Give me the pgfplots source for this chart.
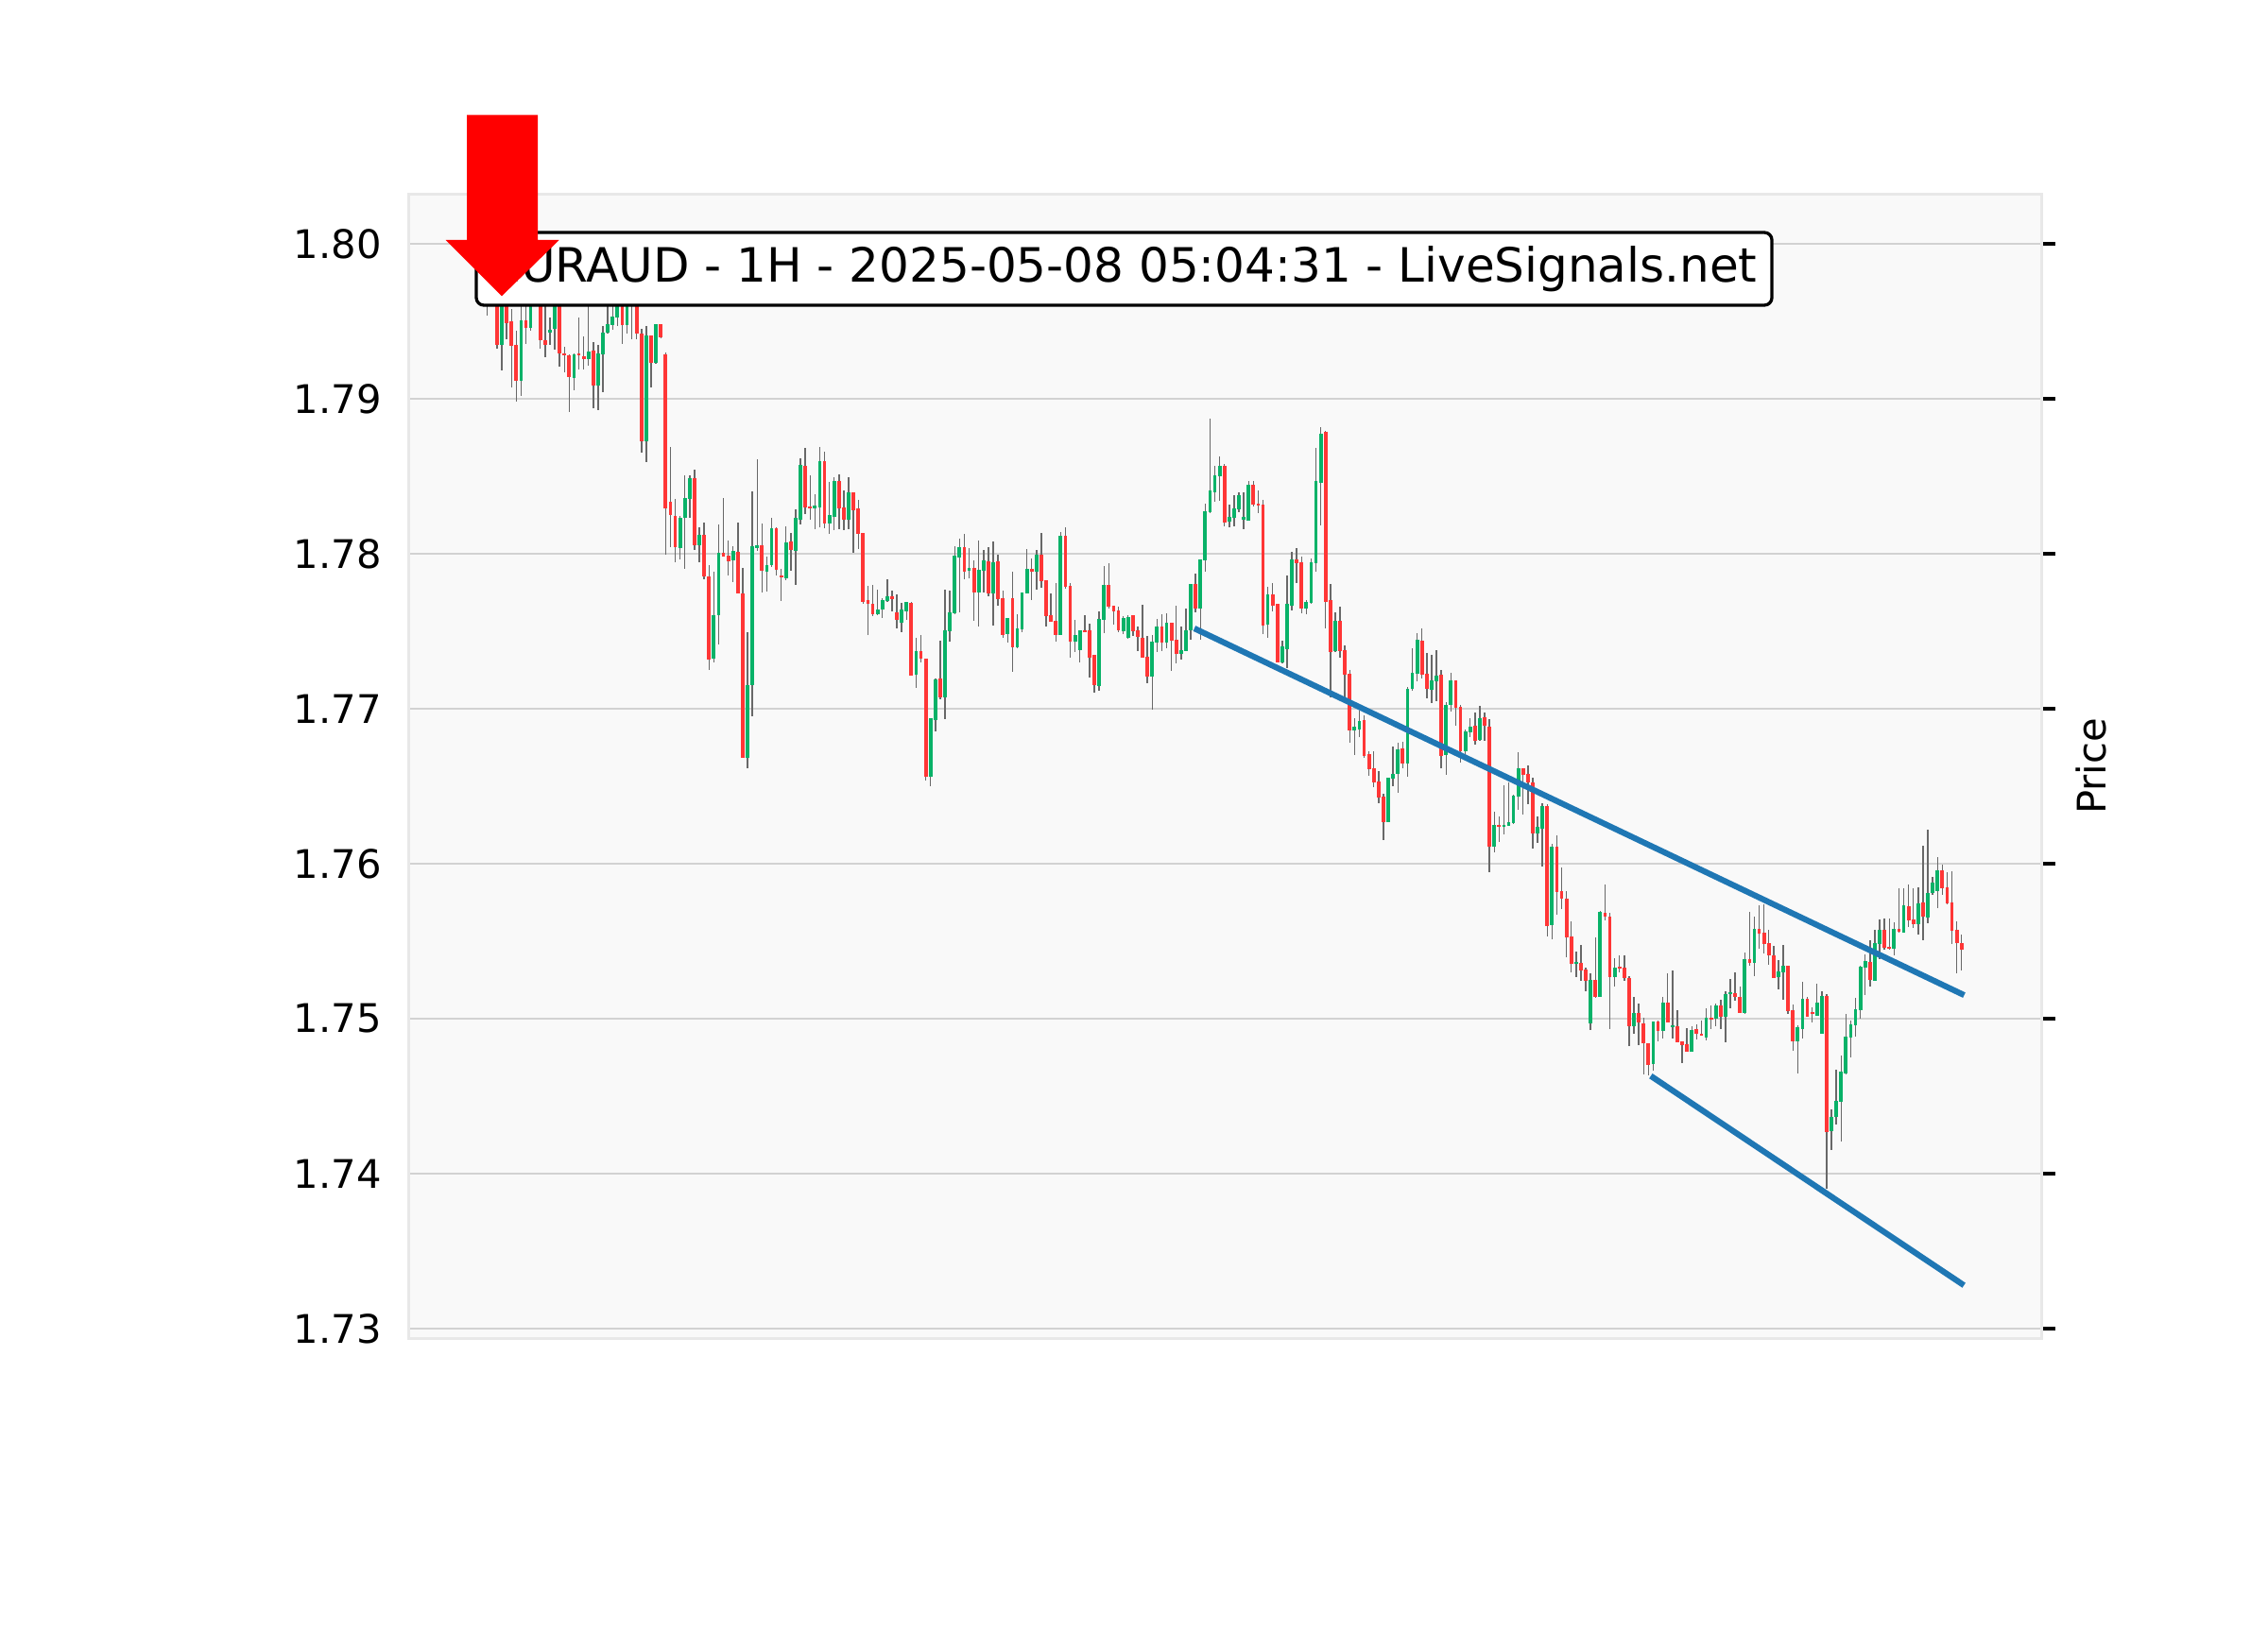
\documentclass[border=0pt]{standalone}
\usepackage{pgfplots}
\pgfplotsset{compat=1.18}
\usepackage{pgfplotstable}
\usepackage{fontspec}
\setmainfont{DejaVu Sans}
\definecolor{upc}{RGB}{8,178,104}
\definecolor{dnc}{RGB}{255,54,54}
\definecolor{wickc}{RGB}{104,104,104}
\definecolor{bgc}{RGB}{249,249,249}
\definecolor{gridc}{RGB}{210,210,210}
\definecolor{framec}{RGB}{232,232,232}
\definecolor{trendc}{RGB}{31,119,180}

\pgfplotstableread{
o h l c
1.79750 1.79850 1.79540 1.79800
1.79800 1.79880 1.79680 1.79750
1.79750 1.79800 1.79327 1.79348
1.79348 1.79700 1.79185 1.79650
1.79650 1.79700 1.79388 1.79486
1.79500 1.79580 1.79073 1.79341
1.79348 1.79439 1.78985 1.79114
1.79114 1.79600 1.79022 1.79506
1.79506 1.79600 1.79352 1.79455
1.79455 1.79800 1.79439 1.79750
1.79750 1.79850 1.79650 1.79780
1.79750 1.79800 1.79327 1.79378
1.79382 1.79600 1.79266 1.79348
1.79429 1.79525 1.79352 1.79445
1.79449 1.79700 1.79317 1.79650
1.79650 1.79700 1.79211 1.79291
1.79293 1.79338 1.79171 1.79283
1.79283 1.79290 1.78915 1.79138
1.79138 1.79295 1.79057 1.79287
1.79291 1.79525 1.79187 1.79281
1.79276 1.79402 1.79191 1.79256
1.79256 1.79600 1.79215 1.79307
1.79313 1.79368 1.78941 1.79087
1.79089 1.79352 1.78927 1.79291
1.79287 1.79470 1.79047 1.79429
1.79429 1.79600 1.79423 1.79484
1.79480 1.79620 1.79445 1.79531
1.79525 1.79680 1.79470 1.79620
1.79650 1.79700 1.79354 1.79476
1.79476 1.79700 1.79423 1.79650
1.79680 1.79750 1.79388 1.79620
1.79650 1.79700 1.79388 1.79423
1.79423 1.79450 1.78650 1.78728
1.78728 1.79468 1.78589 1.79407
1.79407 1.79410 1.79073 1.79232
1.79232 1.79485 1.79230 1.79480
1.79480 1.79485 1.79390 1.79395
1.79290 1.79300 1.77996 1.78291
1.78335 1.78687 1.78041 1.78250
1.78246 1.78358 1.77949 1.78041
1.78037 1.78246 1.77965 1.78230
1.78230 1.78504 1.77905 1.78358
1.78352 1.78504 1.78230 1.78490
1.78490 1.78541 1.78027 1.78053
1.78053 1.78169 1.77945 1.78124
1.78124 1.78205 1.77837 1.77854
1.77854 1.77925 1.77248 1.77321
1.77321 1.77884 1.77301 1.77606
1.77602 1.78189 1.77417 1.78010
1.78010 1.78358 1.77980 1.77980
1.77986 1.78084 1.77858 1.77951
1.77955 1.78047 1.77819 1.78016
1.78016 1.78199 1.77742 1.77742
1.77746 1.77911 1.76685 1.76685
1.76685 1.77492 1.76618 1.77152
1.77152 1.78402 1.76949 1.78047
1.78039 1.78610 1.78016 1.78057
1.78057 1.78193 1.77748 1.77890
1.77884 1.77980 1.77758 1.77925
1.77925 1.78236 1.77919 1.78163
1.78169 1.78169 1.77860 1.77900
1.77860 1.77900 1.77697 1.77850
1.77844 1.78179 1.77829 1.78071
1.78077 1.78134 1.77890 1.78022
1.78022 1.78287 1.77799 1.78230
1.78220 1.78616 1.78189 1.78571
1.78571 1.78681 1.78256 1.78297
1.78305 1.78508 1.78220 1.78291
1.78291 1.78386 1.78159 1.78311
1.78301 1.78687 1.78173 1.78596
1.78596 1.78657 1.78165 1.78195
1.78195 1.78463 1.78128 1.78250
1.78240 1.78494 1.78154 1.78468
1.78468 1.78514 1.78163 1.78297
1.78301 1.78407 1.78154 1.78220
1.78220 1.78494 1.78159 1.78396
1.78396 1.78396 1.78006 1.78280
1.78291 1.78348 1.78033 1.78128
1.78132 1.78132 1.77681 1.77691
1.77701 1.77793 1.77478 1.77675
1.77681 1.77799 1.77596 1.77610
1.77610 1.77766 1.77606 1.77644
1.77640 1.77715 1.77585 1.77699
1.77695 1.77837 1.77691 1.77726
1.77726 1.77762 1.77626 1.77705
1.77620 1.77738 1.77518 1.77573
1.77559 1.77685 1.77496 1.77644
1.77630 1.77687 1.77573 1.77687
1.77687 1.77687 1.77213 1.77217
1.77217 1.77457 1.77138 1.77370
1.77370 1.77478 1.77301 1.77321
1.77325 1.77325 1.76539 1.76559
1.76559 1.76939 1.76502 1.76939
1.76929 1.77193 1.76852 1.77193
1.77193 1.77443 1.77061 1.77071
1.77071 1.77768 1.76935 1.77504
1.77498 1.77762 1.77435 1.77620
1.77614 1.78053 1.77614 1.77986
1.77980 1.78098 1.77624 1.78047
1.78047 1.78128 1.77837 1.77888
1.77888 1.78037 1.77843 1.77909
1.77909 1.77959 1.77565 1.77752
1.77752 1.78083 1.77528 1.77894
1.77890 1.78022 1.77752 1.77955
1.77955 1.78043 1.77728 1.77748
1.77748 1.78083 1.77539 1.77949
1.77955 1.77996 1.77667 1.77711
1.77715 1.77762 1.77457 1.77478
1.77484 1.77585 1.77427 1.77585
1.77715 1.77884 1.77240 1.77396
1.77396 1.77610 1.77390 1.77522
1.77512 1.77752 1.77494 1.77752
1.77742 1.78030 1.77742 1.77904
1.77904 1.77971 1.77701 1.77884
1.77888 1.78026 1.77772 1.77992
1.77992 1.78134 1.77778 1.77823
1.77829 1.77829 1.77528 1.77600
1.77604 1.77742 1.77565 1.77565
1.77569 1.77809 1.77431 1.77478
1.77478 1.78138 1.77478 1.78118
1.78118 1.78169 1.77772 1.77789
1.77793 1.77813 1.77329 1.77433
1.77433 1.77573 1.77370 1.77478
1.77376 1.77508 1.77301 1.77508
1.77508 1.77606 1.77498 1.77498
1.77504 1.77549 1.77203 1.77331
1.77346 1.77346 1.77106 1.77152
1.77146 1.77626 1.77118 1.77579
1.77573 1.77921 1.77492 1.77797
1.77797 1.77939 1.77646 1.77661
1.77667 1.77667 1.77545 1.77630
1.77636 1.77656 1.77496 1.77504
1.77504 1.77600 1.77484 1.77589
1.77457 1.77606 1.77451 1.77595
1.77604 1.77606 1.77467 1.77504
1.77508 1.77528 1.77370 1.77463
1.77457 1.77671 1.77331 1.77331
1.77339 1.77467 1.77163 1.77207
1.77207 1.77476 1.76996 1.77431
1.77427 1.77579 1.77370 1.77528
1.77528 1.77610 1.77370 1.77427
1.77427 1.77614 1.77392 1.77553
1.77553 1.77553 1.77244 1.77437
1.77443 1.77663 1.77295 1.77356
1.77356 1.77533 1.77321 1.77376
1.77370 1.77650 1.77370 1.77508
1.77508 1.77803 1.77447 1.77803
1.77803 1.77870 1.77620 1.77646
1.77646 1.77965 1.77447 1.77965
1.77961 1.78321 1.77884 1.78276
1.78270 1.78870 1.78264 1.78413
1.78398 1.78565 1.78337 1.78504
1.78500 1.78626 1.78342 1.78565
1.78565 1.78581 1.78179 1.78205
1.78205 1.78321 1.78169 1.78236
1.78230 1.78382 1.78179 1.78291
1.78285 1.78396 1.78270 1.78376
1.78220 1.78396 1.78159 1.78240
1.78215 1.78470 1.78215 1.78449
1.78449 1.78470 1.78305 1.78315
1.78325 1.78409 1.78260 1.78311
1.78315 1.78348 1.77484 1.77539
1.77545 1.77787 1.77457 1.77736
1.77736 1.77813 1.77630 1.77667
1.77675 1.77675 1.77301 1.77301
1.77301 1.77443 1.77295 1.77400
1.77386 1.77860 1.77264 1.77675
1.77667 1.78010 1.77636 1.77965
1.77965 1.78037 1.77813 1.77939
1.77945 1.77982 1.77616 1.77644
1.77644 1.77701 1.77610 1.77691
1.77685 1.77970 1.77677 1.77945
1.77939 1.78683 1.77884 1.78468
1.78457 1.78815 1.78185 1.78778
1.78785 1.78793 1.77518 1.77687
1.77701 1.77803 1.77071 1.77370
1.77370 1.77620 1.77366 1.77565
1.77565 1.77661 1.77329 1.77370
1.77376 1.77407 1.77071 1.77217
1.77224 1.77248 1.76781 1.76862
1.76862 1.76939 1.76701 1.76884
1.76868 1.76990 1.76817 1.76925
1.76929 1.76959 1.76685 1.76695
1.76705 1.76726 1.76569 1.76610
1.76614 1.76726 1.76492 1.76528
1.76532 1.76600 1.76390 1.76431
1.76435 1.76451 1.76150 1.76268
1.76268 1.76553 1.76268 1.76553
1.76547 1.76756 1.76498 1.76583
1.76579 1.76782 1.76461 1.76736
1.76742 1.76786 1.76614 1.76650
1.76650 1.77142 1.76559 1.77132
1.77126 1.77392 1.77118 1.77230
1.77224 1.77488 1.77177 1.77443
1.77443 1.77518 1.77199 1.77219
1.77228 1.77360 1.77065 1.77126
1.77126 1.77350 1.77041 1.77183
1.77177 1.77376 1.77051 1.77213
1.77219 1.77250 1.76614 1.76699
1.76699 1.77041 1.76577 1.77026
1.77024 1.77234 1.76980 1.77183
1.77183 1.77183 1.76888 1.77004
1.77010 1.77024 1.76654 1.76726
1.76726 1.76868 1.76705 1.76852
1.76848 1.76939 1.76817 1.76882
1.76888 1.76974 1.76772 1.76793
1.76797 1.77016 1.76793 1.76939
1.76943 1.76976 1.76793 1.76888
1.76888 1.76935 1.75943 1.76110
1.76110 1.76335 1.76075 1.76254
1.76254 1.76305 1.76142 1.76238
1.76238 1.76508 1.76191 1.76254
1.76244 1.76528 1.76244 1.76272
1.76262 1.76447 1.76258 1.76441
1.76431 1.76719 1.76345 1.76618
1.76614 1.76618 1.76319 1.76573
1.76577 1.76638 1.76386 1.76522
1.76522 1.76553 1.76100 1.76193
1.76193 1.76303 1.76136 1.76238
1.76224 1.76390 1.75980 1.76370
1.76370 1.76384 1.75532 1.75598
1.75602 1.76130 1.75510 1.76110
1.76110 1.76181 1.75669 1.75817
1.75821 1.75978 1.75709 1.75774
1.75776 1.75821 1.75394 1.75526
1.75532 1.75628 1.75297 1.75354
1.75354 1.75435 1.75272 1.75368
1.75360 1.75475 1.75248 1.75313
1.75319 1.75333 1.75175 1.75246
1.74970 1.75293 1.74930 1.75252
1.75252 1.75526 1.75136 1.75144
1.75144 1.75699 1.75140 1.75689
1.75685 1.75866 1.75638 1.75662
1.75662 1.75683 1.74931 1.75268
1.75268 1.75388 1.75205 1.75329
1.75334 1.75408 1.75299 1.75329
1.75333 1.75408 1.75242 1.75262
1.75266 1.75276 1.74825 1.74953
1.74951 1.75140 1.74902 1.75039
1.75039 1.75096 1.74831 1.74974
1.74972 1.75008 1.74642 1.74841
1.74845 1.74845 1.74632 1.74703
1.74707 1.74984 1.74667 1.74984
1.74984 1.74988 1.74852 1.74923
1.74923 1.75140 1.74870 1.75106
1.75106 1.75293 1.74978 1.74978
1.74943 1.75309 1.74870 1.74957
1.74953 1.75053 1.74850 1.74850
1.74856 1.74856 1.74713 1.74831
1.74835 1.74941 1.74788 1.74788
1.74788 1.74951 1.74788 1.74931
1.74931 1.74967 1.74866 1.74902
1.74906 1.74988 1.74892 1.74892
1.74882 1.75069 1.74862 1.75008
1.75008 1.75085 1.74933 1.74992
1.74998 1.75100 1.74953 1.75085
1.75083 1.75126 1.74937 1.75012
1.75012 1.75177 1.74850 1.75161
1.75159 1.75256 1.75065 1.75171
1.75167 1.75303 1.75120 1.75140
1.75140 1.75207 1.75039 1.75039
1.75039 1.75425 1.75033 1.75388
1.75388 1.75689 1.75343 1.75358
1.75358 1.75662 1.75276 1.75577
1.75577 1.75730 1.75451 1.75547
1.75553 1.75736 1.75421 1.75480
1.75486 1.75573 1.75350 1.75408
1.75410 1.75469 1.75266 1.75266
1.75266 1.75378 1.75191 1.75303
1.75299 1.75480 1.75124 1.75343
1.75343 1.75343 1.75028 1.75049
1.75053 1.75094 1.74795 1.74856
1.74856 1.74957 1.74646 1.74947
1.74937 1.75238 1.74876 1.75130
1.75130 1.75140 1.75014 1.75014
1.75041 1.75073 1.74974 1.75037
1.75022 1.75226 1.75022 1.75106
1.74907 1.75177 1.74907 1.75150
1.75150 1.75161 1.73900 1.74272
1.74272 1.74415 1.74155 1.74368
1.74368 1.74673 1.74317 1.74470
1.74463 1.74764 1.74209 1.74657
1.74648 1.75033 1.74642 1.74882
1.74876 1.74988 1.74748 1.74961
1.74957 1.75134 1.74886 1.75059
1.75053 1.75339 1.74998 1.75339
1.75329 1.75415 1.75150 1.75370
1.75364 1.75506 1.75211 1.75248
1.75246 1.75573 1.75242 1.75486
1.75482 1.75642 1.75384 1.75571
1.75571 1.75646 1.75445 1.75455
1.75465 1.75646 1.75445 1.75451
1.75451 1.75626 1.75411 1.75581
1.75581 1.75841 1.75557 1.75561
1.75557 1.75841 1.75553 1.75736
1.75730 1.75866 1.75593 1.75634
1.75638 1.75841 1.75587 1.75608
1.75608 1.75846 1.75541 1.75744
1.75750 1.76116 1.75510 1.75659
1.75654 1.76218 1.75618 1.75811
1.75811 1.75913 1.75801 1.75878
1.75825 1.76041 1.75715 1.75957
1.75957 1.75994 1.75801 1.75841
1.75846 1.75947 1.75740 1.75744
1.75754 1.75953 1.75480 1.75567
1.75571 1.75628 1.75293 1.75486
1.75486 1.75541 1.75313 1.75445
}\candles

\begin{document}
\begin{tikzpicture}[x=1cm,y=1cm]
\path (0,0) rectangle (24,17.25);
\begin{axis}[
  at={(4.32cm,3.09cm)}, anchor=south west,
  width=17.28cm, height=12.10cm, scale only axis,
  xmin=-16.42, xmax=322.54,
  ymin=1.72939, ymax=1.80317,
  xtick=\empty,
  ytick={1.73,1.74,1.75,1.76,1.77,1.78,1.79,1.80},
  yticklabels={1.73,1.74,1.75,1.76,1.77,1.78,1.79,1.80},
  ytick pos=right, yticklabel pos=left,
  tick align=outside,
  major tick length=1.46mm,
  tick style={draw=black, line width=0.33mm},
  yticklabel style={font=\fontsize{11.86}{14}\selectfont, anchor=east, inner sep=0pt, xshift=-1.3mm},
  ymajorgrids,
  major grid style={draw=gridc, line width=0.27mm},
  axis background/.style={fill=bgc},
  axis line style={draw=framec, line width=0.3mm},
  ylabel={Price},
  every axis y label/.style={at={(rel axis cs:1,0.5)}, anchor=center, rotate=90, yshift=-5.3mm, font=\fontsize{11.86}{14}\selectfont},
  candle/.style={forget plot, draw=none, mark=none, mark size=0pt, mark options={draw=none, fill=none}},
]
% wicks
\addplot[candle,
  error bars/.cd, y dir=both, y explicit, error mark=none,
  error bar style={draw=wickc, line width=0.14mm}]
  table[x expr=\coordindex, y expr={(\thisrow{h}+\thisrow{l})/2}, y error expr={(\thisrow{h}-\thisrow{l})/2}] {\candles};
% rising bodies
\addplot[candle,
  restrict expr to domain={\thisrow{c}-\thisrow{o}}{0:1},
  error bars/.cd, y dir=both, y explicit, error mark=none,
  error bar style={draw=upc, line width=0.38mm}]
  table[x expr=\coordindex, y expr={(\thisrow{o}+\thisrow{c})/2}, y error expr={max(abs(\thisrow{c}-\thisrow{o})/2,0.00005)}] {\candles};
% falling bodies
\addplot[candle,
  restrict expr to domain={\thisrow{o}-\thisrow{c}}{0.0000001:1},
  error bars/.cd, y dir=both, y explicit, error mark=none,
  error bar style={draw=dnc, line width=0.38mm}]
  table[x expr=\coordindex, y expr={(\thisrow{o}+\thisrow{c})/2}, y error expr={max(abs(\thisrow{c}-\thisrow{o})/2,0.00005)}] {\candles};
% trend lines
\addplot[trendc, line width=0.62mm, line cap=rect, mark=none] coordinates {(147.3,1.7751) (306,1.7516)};
\addplot[trendc, line width=0.62mm, line cap=rect, mark=none] coordinates {(242,1.7462) (306,1.7329)};
\end{axis}
% title box
\node[draw=black, line width=0.33mm, fill=white, rounded corners=0.8mm,
  minimum width=13.71cm, minimum height=0.77cm, inner sep=0pt,
  font=\fontsize{14.23}{17}\selectfont] at (11.895,14.405)
  {EURAUD - 1H - 2025-05-08 05:04:31 - LiveSignals.net};
% signal arrow
\fill[red] (4.94,16.033) -- (5.69,16.033) -- (5.69,14.71) -- (5.917,14.71)
  -- (5.31,14.117) -- (4.717,14.71) -- (4.94,14.71) -- cycle;
\end{tikzpicture}
\end{document}
